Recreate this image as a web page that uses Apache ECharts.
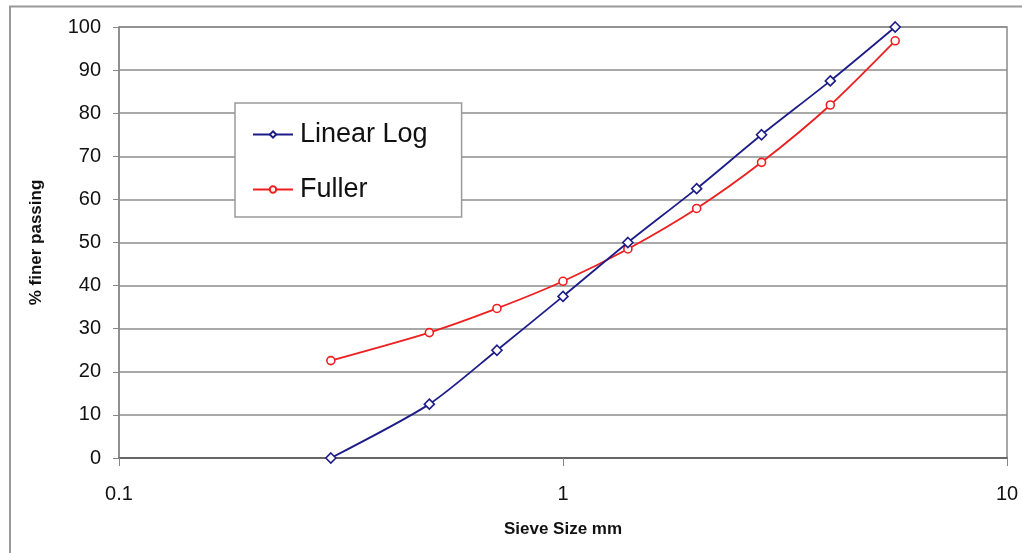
<!DOCTYPE html>
<html>
<head>
<meta charset="utf-8">
<script src="https://cdn.jsdelivr.net/npm/echarts@6/dist/echarts.min.js"></script>
<style>
  html, body { margin: 0; padding: 0; background: #fff; }
  #chart { width: 1022px; height: 553px; }
</style>
</head>
<body>
<div id="chart"></div>
<script>
// Sieve sizes (mm) and percent finer passing for the two gradations
const sieveSizes = [0.3, 0.5, 0.71, 1.0, 1.4, 2.0, 2.8, 4.0, 5.6];
const linearLog = [0, 12.5, 25, 37.5, 50, 62.5, 75, 87.5, 100];
const fuller = [22.6, 29.1, 34.7, 41.0, 48.5, 57.9, 68.6, 81.9, 96.8];
const seriesNames = ['Linear Log', 'Fuller'];
const xTickLabels = { 0.1: '0.1', 1: '1', 10: '10' };

const pairs = (xs, ys) => xs.map((x, i) => [x, ys[i]]);

const chart = echarts.init(document.getElementById('chart'), null, { renderer: 'canvas' });

const font = 'Arial, "Liberation Sans", Helvetica, sans-serif';

chart.setOption({
  animation: false,
  backgroundColor: '#fff',
  textStyle: { fontFamily: font },
  graphic: [
    {
      type: 'polyline',
      shape: { points: [[10, 553], [10, 6.5], [1022, 6.5]] },
      style: { stroke: '#9a9a9a', lineWidth: 2, fill: null },
      silent: true
    }
  ],
  grid: {
    left: 119, right: 15, top: 27, bottom: 95,
    show: true, borderColor: '#8a8a8a', borderWidth: 1.5, backgroundColor: '#fff'
  },
  legend: {
    orient: 'vertical',
    left: 235, top: 103,
    padding: [18, 34, 14, 17],
    itemGap: 28,
    itemWidth: 40,
    itemHeight: 8,
    backgroundColor: '#fff',
    borderColor: '#9a9a9a',
    borderWidth: 1.5,
    textStyle: { fontSize: 27, color: '#111', fontFamily: font, padding: [0, 0, 0, 2] },
    data: seriesNames
  },
  xAxis: {
    type: 'log',
    logBase: 10,
    min: 0.1,
    max: 10,
    name: 'Sieve Size mm',
    nameLocation: 'middle',
    nameGap: 63,
    nameTextStyle: { fontSize: 17, fontWeight: 'bold', color: '#111', fontFamily: font },
    axisLine: { show: true, lineStyle: { color: '#666', width: 2 } },
    axisTick: { show: true, length: 8, lineStyle: { color: '#888', width: 1 } },
    axisLabel: {
      fontSize: 20, color: '#111', margin: 26,
      formatter: v => xTickLabels[v] !== undefined ? xTickLabels[v] : String(v)
    },
    minorTick: { show: false },
    splitLine: { show: false }
  },
  yAxis: {
    type: 'value',
    min: 0, max: 100, interval: 10,
    name: '% finer passing',
    nameLocation: 'middle',
    nameGap: 74,
    nameTextStyle: { fontSize: 17, fontWeight: 'bold', color: '#111', fontFamily: font },
    axisLine: { show: true, lineStyle: { color: '#888', width: 1.5 } },
    axisTick: { show: true, inside: false, length: 6, lineStyle: { color: '#888' } },
    axisLabel: { fontSize: 20, color: '#111', margin: 18 },
    splitLine: { show: true, lineStyle: { color: '#8c8c8c', width: 1.5 } }
  },
  series: [
    {
      name: seriesNames[0],
      type: 'line',
      smooth: 0.25,
      data: pairs(sieveSizes, linearLog),
      symbol: 'diamond',
      symbolSize: 10,
      lineStyle: { color: '#1d1d8a', width: 1.8 },
      itemStyle: { color: '#fff', borderColor: '#1d1d8a', borderWidth: 1.6 },
      z: 3
    },
    {
      name: seriesNames[1],
      type: 'line',
      smooth: 0.25,
      data: pairs(sieveSizes, fuller),
      symbol: 'circle',
      symbolSize: 8,
      lineStyle: { color: '#ee1f1f', width: 1.8 },
      itemStyle: { color: '#fff', borderColor: '#ee1f1f', borderWidth: 1.6 },
      z: 2
    }
  ]
});
</script>
</body>
</html>
